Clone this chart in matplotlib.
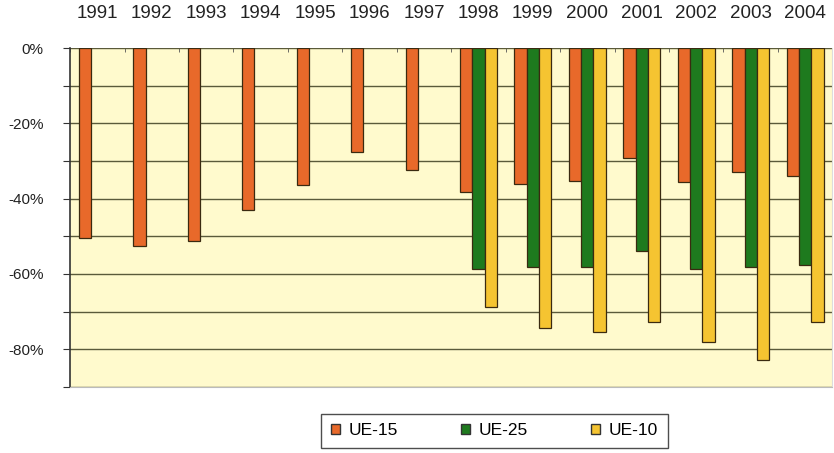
import numpy as np
import matplotlib.pyplot as plt
from matplotlib.patches import Patch

plt.rcParams['font.family'] = ['Liberation Sans', 'DejaVu Sans']

years = ['1991', '1992', '1993', '1994', '1995', '1996', '1997',
         '1998', '1999', '2000', '2001', '2002', '2003', '2004']
ue15 = [-50.5, -52.5, -51.3, -43.0, -36.4, -27.5, -32.4,
        -38.2, -36.1, -35.4, -29.2, -35.6, -33.0, -34.1]
ue25 = [np.nan] * 7 + [-58.6, -58.2, -58.2, -54.0, -58.8, -58.2, -57.6]
ue10 = [np.nan] * 7 + [-68.7, -74.3, -75.4, -72.7, -78.0, -82.9, -72.7]

names = ['UE-15', 'UE-25', 'UE-10']
colors = ['#E8692A', '#1E7A1E', '#F5C431']

fig = plt.figure(figsize=(8.34, 4.53), dpi=100)
ax = fig.add_axes([0.084, 0.146, 0.914, 0.748])
ax.set_facecolor('#FFFACD')

x = np.arange(len(years))
w = 0.226
for k, (vals, c) in enumerate(zip([ue15, ue25, ue10], colors)):
    ax.bar(x + (k - 1) * w, vals, width=w, color=c, edgecolor='#3a2a10',
           linewidth=0.9, zorder=3)

ax.set_xlim(-0.5, len(years) - 0.5)
ax.set_ylim(-90, 0)
ax.set_yticks(np.arange(-90, 1, 10))
ax.set_yticklabels(['' if v % 20 else f'{v}%' for v in range(-90, 1, 10)],
                   fontsize=11, color='#222222')
ax.yaxis.grid(True, color='#5a5a3a', linewidth=1.0, zorder=0)

ax.xaxis.tick_top()
ax.set_xticks(x)
ax.set_xticklabels(years, fontsize=13.5, color='#222222')
ax.tick_params(axis='x', length=0, pad=19)
ax.set_xticks(np.arange(-0.5, len(years), 1), minor=True)
ax.tick_params(axis='x', which='minor', length=3, direction='in', top=True, color='#555555')
ax.tick_params(axis='y', length=5, color='#333333', pad=14)

ax.spines['left'].set_color('#333333')
ax.spines['left'].set_linewidth(1.2)
ax.spines['top'].set_visible(False)
ax.spines['bottom'].set_color('#bbbbbb')
ax.spines['right'].set_color('#dddddd')

handles = [Patch(facecolor=c, edgecolor='#333333', label=n) for n, c in zip(names, colors)]
fig.legend(handles=handles, loc='center', bbox_to_anchor=(0.593, 0.049), ncol=3,
           fontsize=12.5, frameon=True, fancybox=False, edgecolor='#222222',
           handlelength=0.55, handleheight=0.45, handletextpad=0.5, columnspacing=3.6,
           borderpad=0.55)

fig.savefig('out.png', dpi=100)
